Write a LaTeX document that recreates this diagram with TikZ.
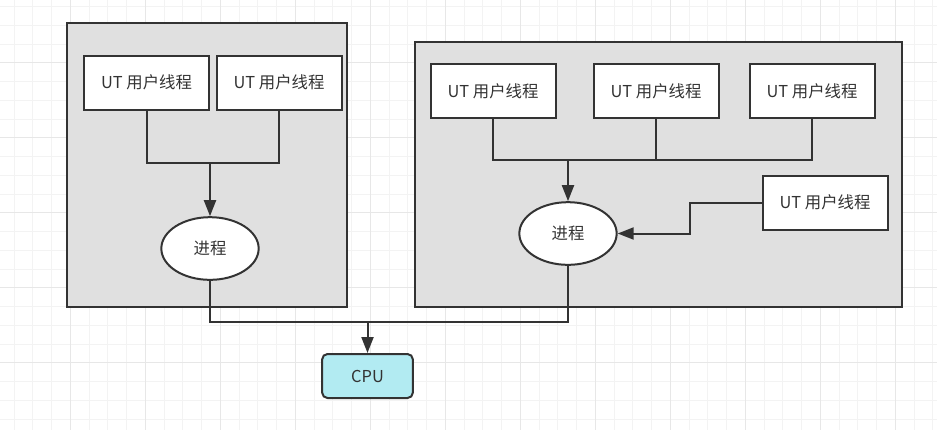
\documentclass[tikz,border=0pt]{standalone}
\usepackage{fontspec}
\usepackage{tikz}
\usepackage{xcolor}
\usetikzlibrary{arrows.meta}
\usetikzlibrary{shapes.geometric}
\newfontfamily\cjk{Noto Sans CJK SC}
\definecolor{INK}{RGB}{51, 51, 51}
\definecolor{GROUP_GRAY}{RGB}{224, 224, 224}
\definecolor{CPU_CYAN}{RGB}{178, 235, 242}
\definecolor{GRID_MINOR}{RGB}{243, 243, 243}
\definecolor{GRID_MAJOR}{RGB}{231, 231, 231}

\begin{document}
\begin{tikzpicture}[x=0.75pt, y=-0.75pt,
		group/.style={draw=INK, fill=GROUP_GRAY, line width=1.5pt, inner sep=0pt},
		thread/.style={draw=INK, fill=white, line width=1.5pt, inner sep=0pt, minimum width=93.75pt, minimum height=40.5pt, font=\cjk\fontsize{12.3}{14}\selectfont, text=INK},
		proc/.style={draw=INK, fill=white, line width=1.5pt, ellipse, inner sep=0pt, minimum width=73pt, minimum height=47pt, font=\cjk\fontsize{12.3}{14}\selectfont, text=INK},
		cpubox/.style={draw=INK, fill=CPU_CYAN, line width=1.5pt, rounded corners=4pt, inner sep=0pt, minimum width=68pt, minimum height=33pt, font=\cjk\fontsize{12.3}{14}\selectfont, text=INK},
		wire/.style={draw=INK, line width=1.5pt},
		feed/.style={draw=INK, line width=1.5pt, -{Triangle[length=12pt, width=9pt]}}]
				\useasboundingbox[fill=white] (0,0) rectangle (937,430);
				% canvas grid
				\foreach \gx in {14,32.75,...,937} \draw[GRID_MINOR, line width=0.75pt] (\gx,0) -- (\gx,430);
				\foreach \gy in {6.5,25.25,...,430} \draw[GRID_MINOR, line width=0.75pt] (0,\gy) -- (937,\gy);
				\foreach \gx in {70,145,...,937} \draw[GRID_MAJOR, line width=0.75pt] (\gx,0) -- (\gx,430);
				\foreach \gy in {62.7,137.7,...,430} \draw[GRID_MAJOR, line width=0.75pt] (0,\gy) -- (937,\gy);
				% groups
				\node[group, minimum width=210pt, minimum height=213pt] (gl) at (207, 165) {};
				\node[group, minimum width=365.25pt, minimum height=198.75pt] (gr) at (658.5, 174.5) {};
				% threads
				\node[thread] (l1) at (146.5, 82.5) {UT 用户线程};
				\node[thread] (l2) at (279, 82.5) {UT 用户线程};
				\node[thread] (r1) at (493, 91) {UT 用户线程};
				\node[thread] (r2) at (656, 91) {UT 用户线程};
				\node[thread] (r3) at (812, 91) {UT 用户线程};
				\node[thread] (r4) at (825, 202.5) {UT 用户线程};
				% processes and cpu
				\node[proc] (pl) at (210, 248.5) {进程};
				\node[proc] (pr) at (568, 233.5) {进程};
				\node[cpubox] (cpu) at (367.5, 376) {CPU};
				\coordinate (jl) at (210, 163);
				\coordinate (jr) at (568, 160);
				\coordinate (kr) at (690, 233.5);
				\coordinate (jc) at (367.5, 322);
				\draw[wire] (l1.south) |- (jl);
				\draw[wire] (l2.south) |- (jl);
				\draw[feed] (jl) to (pl.north);
				\draw[wire] (r1.south) |- (jr);
				\draw[wire] (r2.south) |- (jr);
				\draw[wire] (r3.south) |- (jr);
				\draw[feed] (jr) to (pr.north);
				\draw[feed] (r4.west) -| (kr) -- (pr.east);
				\draw[wire] (pl.south) |- (jc);
				\draw[wire] (pr.south) |- (jc);
				\draw[feed] (jc) to (cpu.north);
			\end{tikzpicture}
\end{document}
